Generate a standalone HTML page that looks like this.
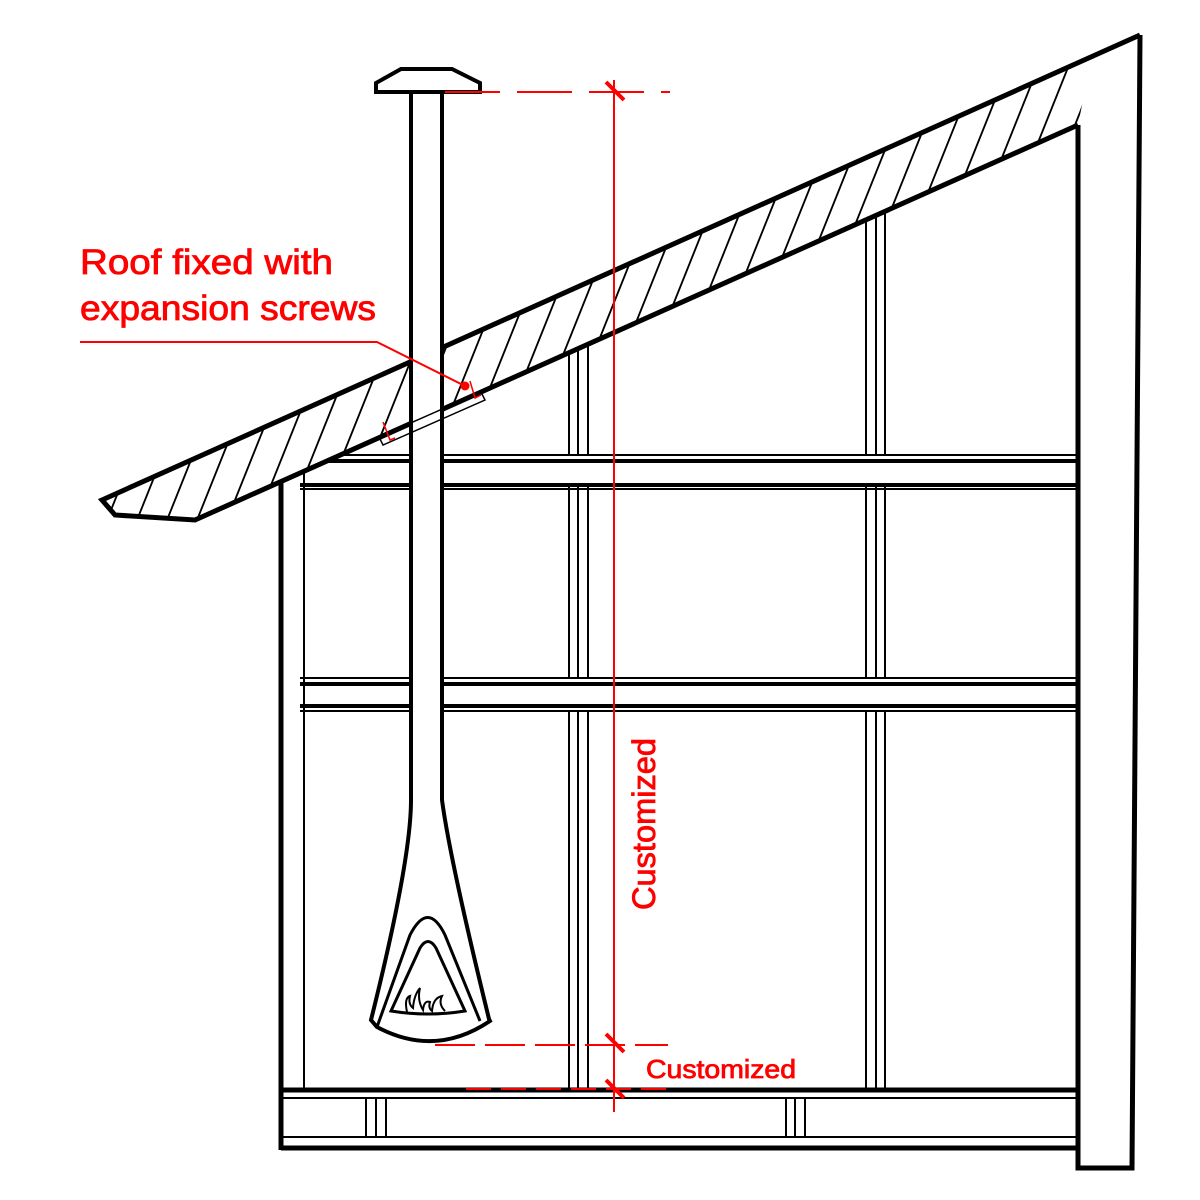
<!DOCTYPE html>
<html><head><style>html,body{margin:0;padding:0;background:#fff}svg{display:block}</style></head>
<body>
<svg width="1200" height="1200" viewBox="0 0 1200 1200" xmlns="http://www.w3.org/2000/svg">
<defs>
<pattern id="hp" width="30" height="10" patternUnits="userSpaceOnUse" patternTransform="skewX(-21.8)">
<rect width="30" height="10" fill="#fff"/>
<line x1="15" y1="-1" x2="15" y2="11" stroke="#000" stroke-width="2"/>
</pattern>
</defs>
<g stroke="#000" fill="none">
<!-- studs -->
<g stroke-width="2">
<line x1="569" y1="340" x2="569" y2="1090"/><line x1="578" y1="340" x2="578" y2="1090"/><line x1="588" y1="340" x2="588" y2="1090"/>
<line x1="866" y1="200" x2="866" y2="1090"/><line x1="876" y1="200" x2="876" y2="1090"/><line x1="885" y1="200" x2="885" y2="1090"/>
</g>
<!-- beams -->
<rect x="300" y="456" width="778" height="31" fill="#fff" stroke="none"/>
<rect x="300" y="679" width="778" height="31" fill="#fff" stroke="none"/>
<g stroke-width="2"><line x1="300" y1="455" x2="1078" y2="455"/><line x1="300" y1="489" x2="1078" y2="489"/>
<line x1="300" y1="678" x2="1078" y2="678"/><line x1="300" y1="711" x2="1078" y2="711"/></g>
<g stroke-width="4"><line x1="300" y1="461" x2="1078" y2="461"/><line x1="300" y1="485" x2="1078" y2="485"/>
<line x1="300" y1="684" x2="1078" y2="684"/><line x1="300" y1="706" x2="1078" y2="706"/></g>
<!-- walls -->
<line x1="281" y1="470" x2="281" y2="1150" stroke-width="5"/>
<line x1="304" y1="460" x2="304" y2="1090" stroke-width="2"/>
<!-- floor -->
<line x1="281" y1="1090" x2="1078" y2="1090" stroke-width="5"/>
<line x1="281" y1="1098" x2="1078" y2="1098" stroke-width="2"/>
<line x1="281" y1="1137" x2="1078" y2="1137" stroke-width="2"/>
<line x1="281" y1="1148" x2="1078" y2="1148" stroke-width="5"/>
<g stroke-width="2"><line x1="366" y1="1098" x2="366" y2="1137"/><line x1="376" y1="1098" x2="376" y2="1137"/><line x1="386" y1="1098" x2="386" y2="1137"/>
<line x1="786" y1="1098" x2="786" y2="1137"/><line x1="795" y1="1098" x2="795" y2="1137"/><line x1="805" y1="1098" x2="805" y2="1137"/></g>
<!-- roof -->
<polygon points="102,500 1092,56 1078,125 195,520 115,515" fill="url(#hp)" stroke="none"/>
<!-- right post -->
<polyline points="1078,125 1078,1168 1132,1168 1140,35" stroke-width="5" stroke-linejoin="miter"/>
<polyline points="1078,125 195,520 115,515 102,500 1140,35" stroke-width="5" stroke-linejoin="miter"/>
<!-- chimney -->
<path d="M411,92 L411,795 Q411,880 370,1020 L376,1027 Q435,1060 490,1022 Q450,880 443,795 L443,92 Z" fill="#fff" stroke="none"/>
<path d="M411,92 L411,800 Q411,860 371,1020 L377,1027 Q435,1058 490,1021 L489,1019 Q450,860 442,800 L442,92" stroke-width="4"/>
<polygon points="376,92 376,83 401,69 452,69 480,83 480,92" fill="#fff" stroke-width="4" stroke-linejoin="miter"/>
<path d="M377,1027 L410,935 Q428,900 445,935 L480,1021" stroke-width="3"/>
<path d="M391,1011 L420,948 Q428,935 436,948 L465,1011 Q428,1017 391,1011 Z" stroke-width="3"/>
<path d="M407,1012 Q404,998 410,996 Q408,1004 413,1008 Q414,995 420,988 Q417,1000 423,1010 Q424,1000 430,1002 Q428,1008 432,1011 Q433,998 442,996 Q438,1004 445,1011" stroke-width="2"/>
<!-- flashing -->
<polygon points="379,437 481,392 485,400 383,445" fill="none" stroke-width="1.5"/>
</g>
<!-- red -->
<g stroke="#f00" fill="none">
<polyline points="80,342 377,342 465,386" stroke-width="2"/>
<circle cx="465" cy="386" r="4.5" fill="#f00" stroke="none"/>
<polyline points="383,422 390,440 395,438" stroke-width="1.5"/>
<polyline points="470,381 475,398 481,395" stroke-width="1.5"/>
<line x1="614" y1="80" x2="614" y2="1112" stroke-width="2"/>
<line x1="445" y1="92" x2="670" y2="92" stroke-width="2" stroke-dasharray="55,17"/>
<line x1="435" y1="1045" x2="668" y2="1045" stroke-width="2" stroke-dasharray="40,10"/>
<line x1="466" y1="1089" x2="672" y2="1089" stroke-width="2" stroke-dasharray="25,10"/>
<g stroke-width="4"><line x1="606" y1="82" x2="624" y2="100"/><line x1="606" y1="1034" x2="624" y2="1052"/><line x1="606" y1="1080" x2="624" y2="1098"/></g>
</g>
<g fill="#f00" stroke="#f00" stroke-width="0.8" font-family="'Liberation Sans',sans-serif">
<text x="80" y="274" font-size="35" textLength="253" lengthAdjust="spacingAndGlyphs">Roof fixed with</text>
<text x="80" y="320" font-size="35" textLength="296" lengthAdjust="spacingAndGlyphs">expansion screws</text>
<text x="646" y="1078" font-size="26" textLength="150" lengthAdjust="spacingAndGlyphs">Customized</text>
<text transform="translate(655,910) rotate(-90)" font-size="32" textLength="172" lengthAdjust="spacingAndGlyphs">Customized</text>
</g>
</svg>
</body></html>
